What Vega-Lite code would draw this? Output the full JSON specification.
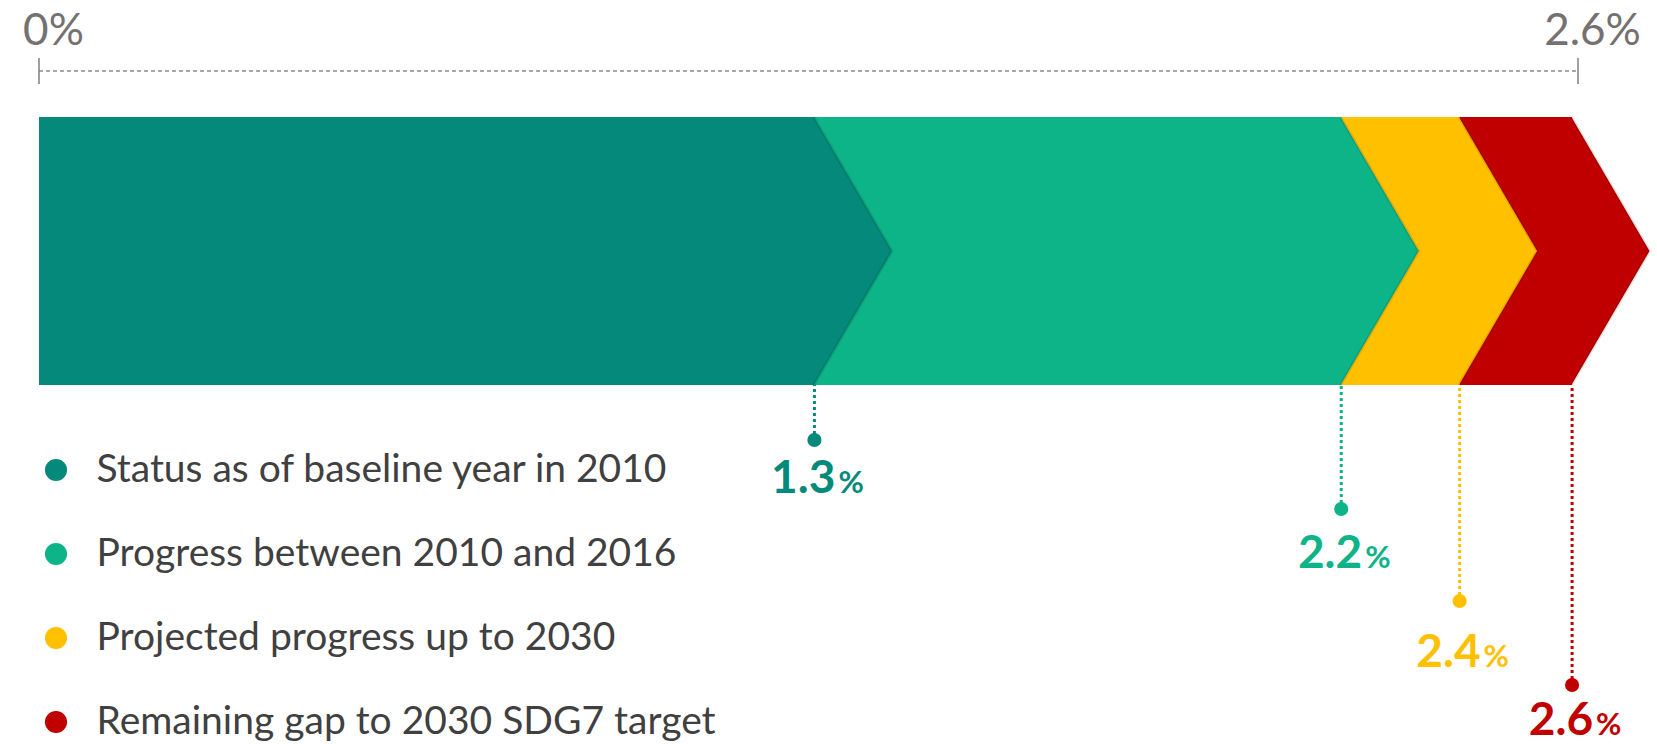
{
  "$schema": "https://vega.github.io/schema/vega-lite/v6.json",
  "width": 1657,
  "height": 686,
  "autosize": {"type": "none"},
  "padding": {"left": 0, "top": 58, "right": 0, "bottom": 0},
  "background": "white",
  "config": {"view": {"stroke": null}},
  "datasets": {
    "segments": [
      {"segment": "Remaining gap to 2030 SDG7 target", "value": 2.59, "label": "2.6", "level": 4},
      {"segment": "Projected progress up to 2030", "value": 2.4, "label": "2.4", "level": 3},
      {"segment": "Progress between 2010 and 2016", "value": 2.2, "label": "2.2", "level": 2},
      {"segment": "Status as of baseline year in 2010", "value": 1.31, "label": "1.3", "level": 1}
    ],
    "ticks": [{"t": 0}, {"t": 2.6}],
    "axisline": [{"from": 0, "to": 2.6}]
  },
  "data": {"name": "segments"},
  "layer": [
    {
      "layer": [
        {
          "data": {"name": "axisline"},
          "mark": {"type": "rule", "color": "#8a8a8a", "strokeWidth": 1.3, "strokeDash": [4, 3]},
          "encoding": {
            "x": {"field": "from", "type": "quantitative", "scale": {"domain": [0, 2.6], "range": [39, 1578], "nice": false, "zero": false},
              "axis": {"orient": "top", "values": [0, 2.6], "title": null, "domain": false, "ticks": false, "grid": false,
                "labelExpr": "datum.value + '%'", "labelFont": "Lato", "labelFontSize": 44, "labelColor": "#767171",
                "labelBaseline": "alphabetic", "labelPadding": 14, "labelAlign": "center", "labelOffset": 14}},
            "x2": {"field": "to"},
            "y": {"datum": 1.3433, "type": "quantitative", "scale": {"domain": [-1, 1], "range": [327, 59], "nice": false, "zero": false}, "axis": null}
          }
        },
        {
          "data": {"name": "ticks"},
          "mark": {"type": "rule", "color": "#7f7f7f", "strokeWidth": 1.5},
          "encoding": {
            "x": {"field": "t", "type": "quantitative"},
            "y": {"datum": 1.4403, "type": "quantitative", "axis": null},
            "y2": {"datum": 1.2463}
          }
        },
        {
          "mark": {"type": "rect"},
          "encoding": {
            "x": {"field": "value", "type": "quantitative"},
            "x2": {"datum": 0},
            "y": {"datum": 1, "type": "quantitative", "axis": null},
            "y2": {"datum": -1},
            "color": {"field": "segment", "type": "nominal",
              "scale": {"domain": ["Status as of baseline year in 2010", "Progress between 2010 and 2016", "Projected progress up to 2030", "Remaining gap to 2030 SDG7 target"],
                "range": ["#05897a", "#0db488", "#ffc000", "#c00000"]},
              "legend": {"title": null, "orient": "none", "legendX": 36.5, "legendY": 392.5, "direction": "vertical",
                "symbolType": "circle", "symbolSize": 490, "symbolStrokeWidth": 0, "symbolOpacity": 1,
                "labelFont": "Lato", "labelFontSize": 39, "labelColor": "#404040", "labelOffset": 21, "labelLimit": 1000,
                "rowPadding": 44, "padding": 0}}
          }
        },
        {
          "mark": {"type": "point", "filled": true, "opacity": 1, "shape": "M-0.005,-1L0.578,0L-0.005,1", "size": 71824, "stroke": "#000000", "strokeOpacity": 0.1, "strokeWidth": 3},
          "encoding": {
            "x": {"field": "value", "type": "quantitative"},
            "y": {"datum": 0, "type": "quantitative", "axis": null},
            "color": {"field": "segment", "type": "nominal"}
          }
        }
      ]
    },
    {
      "layer": [
        {
          "mark": {"type": "rule", "strokeWidth": 3, "strokeDash": [3, 3]},
          "encoding": {
            "x": {"field": "value", "type": "quantitative"},
            "y": {"field": "level", "type": "quantitative", "scale": {"domain": [0, 1, 2, 3, 4], "range": [327, 382, 451, 543, 627], "nice": false, "zero": false}, "axis": null},
            "y2": {"datum": 0},
            "color": {"field": "segment", "type": "nominal"}
          }
        },
        {
          "mark": {"type": "point", "filled": true, "opacity": 1, "shape": "circle", "size": 200},
          "encoding": {
            "x": {"field": "value", "type": "quantitative"},
            "y": {"field": "level", "type": "quantitative", "axis": null},
            "color": {"field": "segment", "type": "nominal"}
          }
        }
      ]
    },
    {
      "layer": [
        {
          "mark": {"type": "text", "align": "right", "baseline": "alphabetic", "dx": 21, "font": "Lato", "fontWeight": "bold", "fontSize": 46},
          "encoding": {
            "x": {"field": "value", "type": "quantitative"},
            "y": {"field": "level", "type": "quantitative", "scale": {"domain": [1, 2, 3, 4], "range": [435, 510, 609, 677], "nice": false, "zero": false}, "axis": null},
            "text": {"field": "label"},
            "color": {"field": "segment", "type": "nominal"}
          }
        },
        {
          "mark": {"type": "text", "align": "left", "baseline": "alphabetic", "dx": 24, "font": "Lato", "fontWeight": "bold", "fontSize": 31},
          "encoding": {
            "x": {"field": "value", "type": "quantitative"},
            "y": {"field": "level", "type": "quantitative", "axis": null},
            "text": {"value": "%"},
            "color": {"field": "segment", "type": "nominal"}
          }
        }
      ]
    }
  ],
  "resolve": {"scale": {"y": "independent"}}
}
